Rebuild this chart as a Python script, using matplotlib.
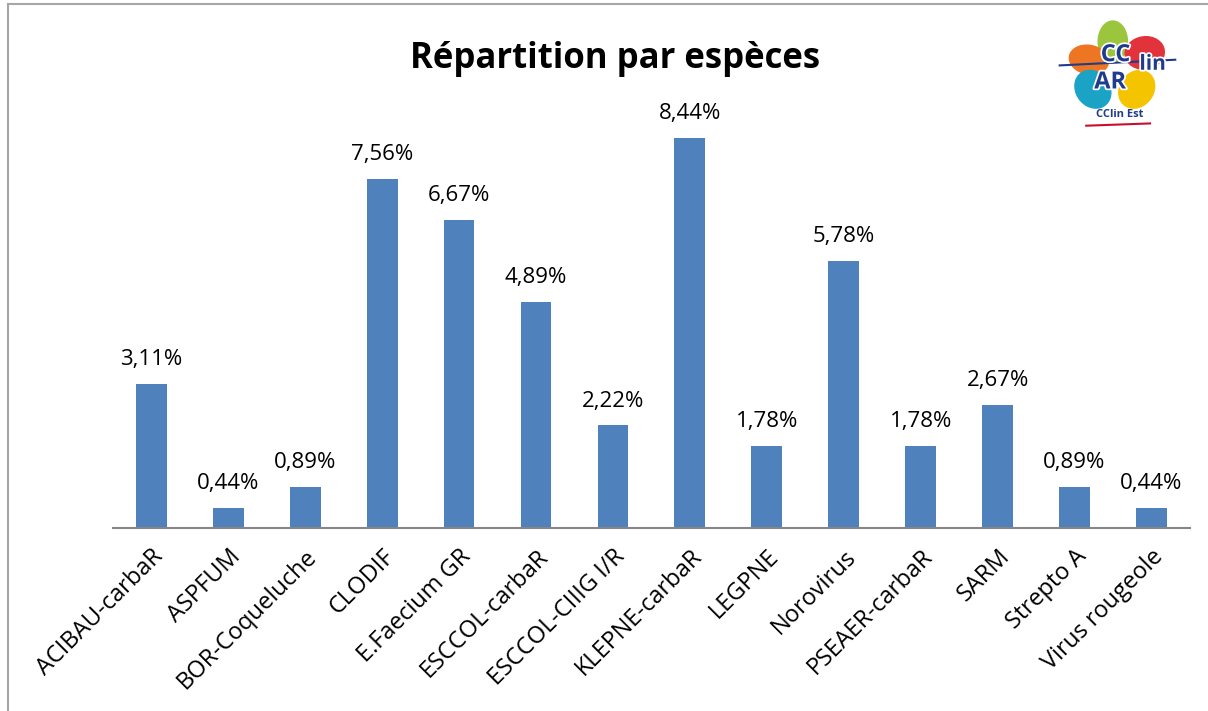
import matplotlib
matplotlib.use("Agg")
import matplotlib.pyplot as plt
import matplotlib.patheffects as pe
from matplotlib.patches import Ellipse

categories = ["ACIBAU-carbaR", "ASPFUM", "BOR-Coqueluche", "CLODIF", "E.Faecium GR",
              "ESCCOL-carbaR", "ESCCOL-CIIIG I/R", "KLEPNE-carbaR", "LEGPNE", "Norovirus",
              "PSEAER-carbaR", "SARM", "Strepto A", "Virus rougeole"]
values = [3.11, 0.44, 0.89, 7.56, 6.67, 4.89, 2.22, 8.44, 1.78, 5.78, 1.78, 2.67, 0.89, 0.44]

plt.rcParams['font.family'] = ['Open Sans', 'DejaVu Sans']

fig = plt.figure(figsize=(12.08, 7.11), dpi=100)
ax = fig.add_axes([0.0935, 0.2574, 0.8915, 0.585])

x = range(len(categories))
bars = ax.bar(x, values, width=0.4, color="#4F81BD")
for b, v in zip(bars, values):
    ax.text(b.get_x() + b.get_width() / 2, v + 0.3, f"{v:.2f}%".replace(".", ","),
            ha="center", va="bottom", fontsize=16)

ax.set_xlim(-0.5, len(categories) - 0.5)
ax.set_ylim(0, 9)
ax.set_yticks([])
ax.set_xticks(list(x))
ax.set_xticklabels(categories, rotation=45, ha="right", rotation_mode="anchor", fontsize=17)
ax.tick_params(axis="x", length=0, pad=12)
for s in ["top", "right", "left"]:
    ax.spines[s].set_visible(False)
ax.spines["bottom"].set_color("#868686")
ax.spines["bottom"].set_linewidth(1.5)

fig.text(0.509, 0.917, "Répartition par espèces", ha="center", va="center",
         fontsize=25, fontweight="bold")

# frame lines of the chart area
fig.add_artist(plt.Line2D([0.007, 0.007], [0, 0.995], color="#A6A6A6", lw=1.5))
fig.add_artist(plt.Line2D([0.007, 1.0], [0.995, 0.995], color="#A6A6A6", lw=1.5))

# rough logo
lax = fig.add_axes([0.875, 0.82, 0.11, 0.16])
lax.set_xlim(0, 1)
lax.set_ylim(0, 1)
lax.axis("off")
for (cx, cy, w, h, ang, col) in [(0.42, 0.76, 0.22, 0.36, 0, "#9BC53D"),
                                 (0.66, 0.66, 0.30, 0.28, 30, "#E2323C"),
                                 (0.24, 0.60, 0.30, 0.25, -20, "#EE7623"),
                                 (0.27, 0.34, 0.26, 0.34, 20, "#1BA3C6"),
                                 (0.60, 0.34, 0.26, 0.34, -20, "#F5C400")]:
    lax.add_patch(Ellipse((cx, cy), w, h, angle=ang, color=col))
lax.plot([0.02, 0.89], [0.55, 0.60], color="#1F3B8C", lw=1.5)
stroke = [pe.withStroke(linewidth=2.5, foreground="white")]
lax.text(0.44, 0.64, "CC", color="#1F3B8C", fontsize=17, fontweight="bold",
         ha="center", va="center", path_effects=stroke)
lax.text(0.72, 0.56, "lin", color="#1F3B8C", fontsize=15, fontweight="bold",
         ha="center", va="center", path_effects=stroke)
lax.text(0.40, 0.40, "AR", color="#1F3B8C", fontsize=17, fontweight="bold",
         ha="center", va="center", path_effects=stroke)
lax.text(0.47, 0.12, "CClin Est", color="#1F3B8C", fontsize=8, fontweight="bold",
         ha="center", va="center")
lax.plot([0.22, 0.70], [0.02, 0.04], color="#C8102E", lw=1.5)

fig.savefig("out.png", dpi=100)
